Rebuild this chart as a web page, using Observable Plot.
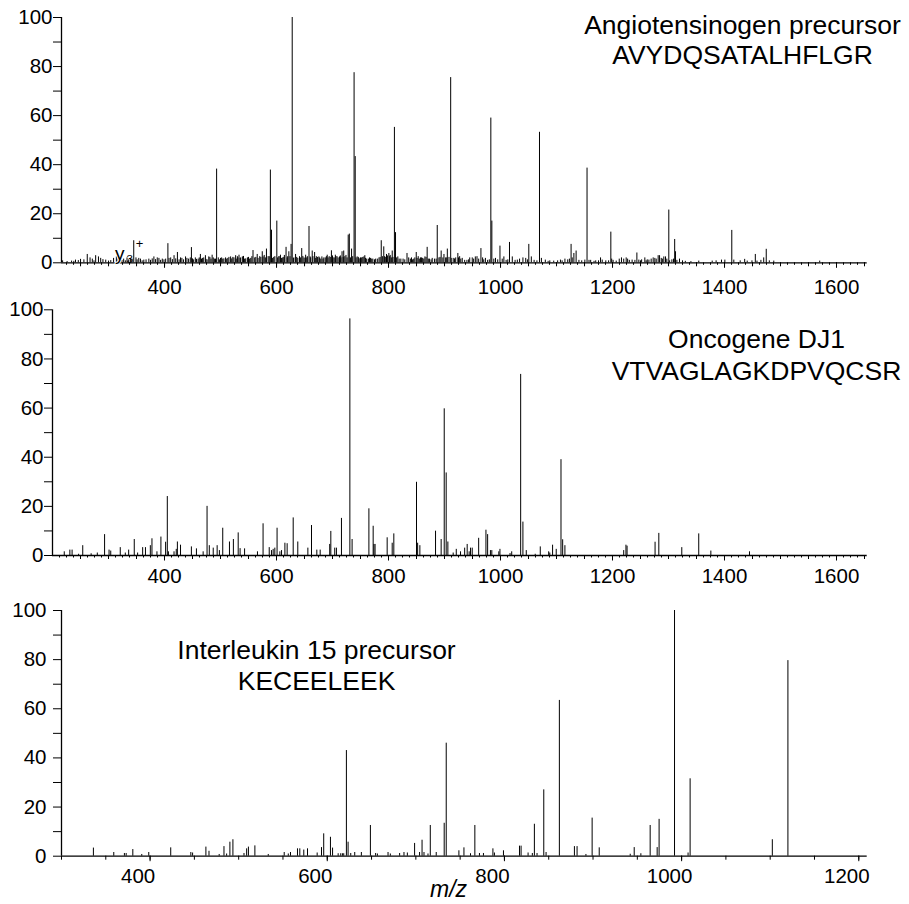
<!DOCTYPE html>
<html><head><meta charset="utf-8">
<script src="https://cdn.jsdelivr.net/npm/d3@7"></script>
<script src="https://cdn.jsdelivr.net/npm/@observablehq/plot@0.6"></script>
<style>
body{margin:0;background:#fff;}
#wrap{position:relative;width:909px;height:904px;background:#fff;font-family:"Liberation Sans",Arial,sans-serif;}
#wrap svg{position:absolute;left:0;overflow:visible;}
</style></head><body><div id="wrap"></div>
<script>
// ---------- data ----------
const yTicks = [0,10,20,30,40,50,60,70,80,90,100];
const yLabels = [0,20,40,60,80,100];
const xLabelsTop = [400,600,800,1000,1200,1400,1600];
const xLabelsBottom = [400,600,800,1000,1200];

const titleTop = ["Angiotensinogen precursor","AVYDQSATALHFLGR"];
const titleMid = ["Oncogene DJ1","VTVAGLAGKDPVQCSR"];
const titleBottom = ["Interleukin 15 precursor","KECEELEEK"];
const xTitle = "m/z";
const ionLabel = {mz: 345, ion: "y", sub: "3", sup: "+"};

// [m/z, relative intensity]
const peaksAngio = [
[234,0.7],[241,1.1],[250,1.4],[262,3.4],[267,2],[277,2.9],[282,2.4],[286,1.8],[295,1.1],[300,0.7],[309,1.8],[314,2.4],[320,1.2],[327,1.5],[333,2],[339,1.8],
[345,9],[354,1.8],[363,1.1],[372,1.5],[381,2.4],[387,2],[396,1.5],[406,7.8],[411,2],[417,2.9],[423,4.2],[428.6,2],[437.5,2.4],[448,6.2],[452,1.2],[455,2],[460,1.5],
[464,3.4],[468,1.8],[473,2.9],[476,1.2],[479,2.4],[485,3.1],[489,1.5],[493,38.2],[500,1.8],[504,1.5],[509,2],[513,1.8],[518,2.4],[522,2.2],[527,2.9],[530,2.5],
[533,3.1],[536,2],[539,2.4],[543,1.5],[548,2],[552,1.5],[558,5],[561,2],[565.5,3.4],[570,2.5],[574.5,4.5],[578,3],[582,5.6],[585,2.5],[589,37.8],[591,13.3],
[595,2.2],[600.5,17],[604,2.5],[607,3.1],[611,2],[614,3],[617,6.3],[620,2.5],[622,4.5],[626,7.5],[628,100],[631,2],[634,3.4],[638,1.8],[641,2.5],[645,5.8],
[649,2],[652,3.1],[655,2.5],[658,14.8],[661,2],[663.7,4.8],[668,4.2],[671,2.5],[675.6,2.4],[679,1.5],[684.5,2],[687,2],[690.5,3.1],[694,2.5],[698,4.9],[701,2],
[705,3.1],[708,2.5],[712.5,2.4],[715,2],[717,4.5],[720,4.8],[724,3],[728,11.3],[730,11.7],[732,2],[734,5.6],[738.5,77.5],[740.5,43.3],[744,2.4],[747,1.8],
[750,2],[754,2.2],[757.7,2.9],[761,1.5],[768,1.8],[772,1.5],[777,1.5],[783,2],[787,9],[791.5,6.5],[793,2.5],[796.4,3.4],[798,2.8],[800.6,3.8],[803,3],
[806.6,4.8],[810.5,55.2],[812.5,12.3],[816.6,2.4],[819,1.5],[826,1.5],[833,3.8],[836,2],[841,2],[845,1.5],[849.5,4.2],[853,2.5],[857,2],[861,1.8],[865,2.4],
[869,6.3],[873,1.5],[878,1.8],[882,1.5],[887,15.2],[890,2],[894,4.8],[899,3.4],[902,2],[905,5.6],[908,2.2],[911,75.5],[916.6,1.8],[920,2],[923.8,3.8],[927,2.5],
[931.6,1.8],[940,1],[945,2],[949.5,2],[952,1.5],[955,2.4],[958,2.5],[965,5.8],[968,2],[973,1.8],[977,1],[982.7,59],[984.5,17],[991,1.8],[995,1.2],[999,6.8],
[1003,1.5],[1006,2.4],[1010,1],[1016,8.3],[1021,2.4],[1026,1],[1034,1.5],[1040,2],[1045,1.8],[1050.5,7.5],[1055,2.4],[1060,1],[1069.6,53.2],[1073,1.8],[1080,1.1],
[1088,0.8],[1095,0.7],[1102,0.8],[1107,1.1],[1115,1.5],[1120,1.2],[1126,7.5],[1131,3.8],[1135,4.8],[1140,1],[1150.6,1.1],[1154.5,38.6],[1161,1],[1170,0.8],
[1178.6,2],[1181.6,1.1],[1188,0.8],[1197,12.5],[1198.5,1.5],[1206.6,0.7],[1212,1.5],[1216,2],[1220,1.5],[1224.4,2],[1230,1],[1235,1.1],[1243.5,4],[1247,1.1],
[1252,1.2],[1257.7,2],[1262,1.2],[1265,1.1],[1269,1.5],[1272.6,2],[1275.6,1.8],[1281.5,2.9],[1284,2.9],[1287,1.8],[1291.6,2.4],[1294.6,2.4],[1300.5,21.5],
[1302,0.8],[1306,1.2],[1311,9.5],[1312.5,4.5],[1319.6,1.5],[1325,0.8],[1340,0.5],[1354,0.7],[1378,0.7],[1385,0.8],[1394.6,1.1],[1400.6,1.1],[1413,13.2],
[1416.6,1.1],[1428,0.8],[1436,1.4],[1440.5,0.7],[1449,0.8],[1455,3.4],[1458,0.7],[1465,1],[1470,2],[1474.5,5.5],[1480,0.8],[1488,0.7],[1570,0.7],
// dense low-level noise band
[218,0.8],[226,0.5],[238,0.6],[246,0.9],[256,1.2],[271,1.5],[274,0.8],[290,1.3],[304,0.9],[317,1.6],[324,1],[330,0.8],[336,1.2],[342,1.5],[349,2],[351,1.2],
[357,1.5],[360,0.8],[367,1.2],[375,1],[378,1.6],[384,1.3],[390,1.8],[393,1],[399,1.2],[402,1.5],[408,1.8],[414,1.3],[420,1.6],[426,1.2],[431,1.8],[434,1.2],
[440,1.8],[443,1.5],[446,2],[450,1.6],[457,1.4],[462,2],[466,1.5],[470,2],[474,1.4],[481,2.2],[483,1.5],[487,2],[491,1.5],[496,2],[498,1.2],[502,2],[506,1.6],
[511,1.5],[515,2.2],[520,1.6],[524,2],[528,1.5],[531,2],[535,1.8],[541,2.6],[545,1.6],[550,2.2],[554,1.8],[556,2.5],[563,2.2],[567,1.8],[572,2.2],[576,2.4],
[580,2],[587,2.5],[593,1.8],[597,2.5],[602,2],[606,2.5],[609,1.8],[613,2.2],[619,2],[624,2.5],[630,1.8],[636,2.2],[643,2],[647,2.6],[651,1.8],[654,2],[660,2.4],
[665,2.5],[670,1.8],[673,2.2],[677,2],[681,2.4],[683,1.5],[689,2.5],[692,2],[696,2.2],[700,2.8],[703,2],[706,2.5],[710,2],[714,2.8],[719,2.2],[722,2.5],[726,2],
[736,2.5],[742,2],[746,2.2],[749,1.5],[752,2],[756,2.4],[759,1.8],[764,1.5],[766,2],[770,1.5],[775,1.2],[780,1.5],[785,2.2],[789,2.5],[795,2.2],[802,2.5],
[805,2],[808,2.2],[814,2],[822,1.5],[829,1.2],[839,1.5],[843,1.2],[847,2],[851,1.8],[855,1.5],[859,2],[863,1.5],[867,2.2],[871,1.5],[876,1.2],[885,1.5],
[892,2.2],[897,2],[904,2],[913,1.8],[918,1.5],[925,2],[929,1.5],[936,1],[943,1.2],[961,1.5],[970,1.2],[980,1.2],[988,1.5],[1013,1.2],[1030,1.1],[1048,1.2],
[1065,0.8],[1085,0.6],[1110,0.8],[1123,1.5],[1128,2],[1145,0.8],[1158,1],[1167,0.6],[1175,0.8],[1193,0.8],[1201,1],[1227,1.5],[1240,1],[1250,0.8],[1260,0.8],
[1278,1.5],[1289,1.5],[1297,1.5],[1309,1.5],[1315,1],[1330,0.6]
];

const peaksDJ1 = [
[221,1.5],[231,2.2],[235,2.2],[246.6,0.5],[254,4],[269,0.7],[280,1],[293,8.5],[301,2.2],[304,1.8],[321,3.2],[330,1],[336,2.2],[346,6.5],[352,1],[361,3.2],
[366,3.2],[374.7,4],[377.6,6.8],[386.5,1.5],[393.6,7.5],[402,5.4],[405,24],[407,1.5],[417,1.5],[421,2.5],[423,5.5],[428.6,4.2],[448,3.5],[457,2.7],[469,1.5],
[476,20],[480,4],[487,3],[494,4],[498,2],[504,11.1],[516,5.5],[523,6.5],[531.6,9.2],[535,2.8],[543,2.7],[566,1.5],[576,12.9],[587,3.2],[591,2],[594,2.5],
[597,3],[601,11.1],[606,1.5],[609,2],[615,5],[619,4.8],[629.8,15.3],[638,5.5],[656,3],[662.5,12.2],[672,2.2],[678,2.2],[695,4.5],[697,9.8],[704,3],[707,3],
[716,15.1],[731,96.3],[735,6.5],[765,19],[772.6,11.9],[774,4.5],[776,4.5],[797.6,7.2],[806.6,5],[809.5,8.8],[850,29.8],[852,5],[856,4],[884,9.9],[894,6.5],
[899.5,59.7],[903,33.6],[906,5.5],[915.5,1],[921,2.5],[928.6,1.5],[936,3],[940.5,4.5],[944,1.5],[946.5,3],[949.5,3],[961,7],[974,10.3],[977,8.5],[982,2],
[984.5,2],[997,1.5],[999,2.5],[1017,0.8],[1020,1.5],[1036,73.7],[1040,13.6],[1046,2],[1062,0.5],[1071,3.5],[1086,1.5],[1088,1],[1093,4.2],[1099.5,2.5],
[1108,39],[1111,6.4],[1115,4],[1220,2],[1224,4.2],[1226,3.8],[1276,5.4],[1282.7,9],[1323.7,3.2],[1354,8.8],[1375.6,1.8],[1444.6,1.5]
];

const peaksIL15 = [
[336,3.3],[359,1.5],[371,1.1],[373,1.1],[380.5,2.7],[390.6,0.7],[398.5,1.5],[423.3,3.4],[446,1.5],[448,1.3],[463,3.7],[466.5,2],[478,0.7],[483.4,3.9],
[486.4,0.9],[490.1,5.7],[493.5,6.7],[506,1.1],[509,3],[511,3.7],[518.3,4.2],[533.4,0.7],[551.4,1.5],[556,0.9],[558.5,1.5],[566.4,3],[569,3],[573.5,2.5],
[577.7,3],[588.6,1.3],[593.5,3.5],[596,9.1],[603.6,7.7],[606,3.3],[612.3,1],[615.2,1],[617.1,1],[618.6,1],[621.6,43],[623.5,5.7],[626.5,1.1],[631,1.5],
[638.5,1.5],[648.7,12.5],[654.6,1.1],[656.6,0.9],[668.6,1.5],[671.2,0.9],[681.7,1.1],[686.6,1.5],[690.4,1.3],[698.6,5.2],[704.2,1.5],[707,6.5],[709.2,1.5],
[713.7,0.9],[716.3,12.5],[723,1.5],[732,13.4],[734.3,46],[748.6,2.2],[754.3,3.4],[761.7,1],[766.6,12.5],[771.8,1.1],[776.3,1.1],[787,3],[788.7,1.3],[798.9,2.2],
[817,4.1],[818.8,4.1],[826.7,1.3],[831.5,1.1],[833.8,13],[836.8,1.1],[844.4,27],[847,1.5],[862,63.4],[879,3.9],[882,3.9],[892,0.7],[899,15.5],[907,3.4],
[942,0.8],[946.5,3.5],[954,1],[964.5,12.5],[972.4,3.5],[974.6,15],[992,100],[1007.3,1.3],[1009.6,31.5],[1102.4,6.7],[1120,79.6]
];

// ---------- drawing ----------
const W = 909;
const wrap = document.getElementById("wrap");
const FONT = "Liberation Sans, Arial, sans-serif";

function panel(cfg) {
  const marginTop = cfg.y100 - cfg.svgTop;
  const marginBottom = cfg.svgTop + cfg.svgHeight - cfg.y0;
  const marks = [
    Plot.ruleX(cfg.peaks, {x: d => d[0], y1: 0, y2: d => d[1], stroke: "#000", strokeWidth: 1}),
    Plot.ruleY([0], {stroke: "#000", strokeWidth: 1.3}),
    Plot.ruleX([cfg.xDomain[0]], {y1: 0, y2: 100, stroke: "#000", strokeWidth: 1.3}),
    Plot.axisY(yTicks, {tickSize: 8, tickPadding: cfg.yPad, fontSize: 20.5,
      tickFormat: d => yLabels.includes(d) ? String(d) : ""}),
    Plot.axisX(cfg.minor, {tickSize: 2.5, tickFormat: () => ""}),
    Plot.axisX(cfg.mid, {tickSize: 4, tickFormat: () => ""}),
    Plot.axisX(cfg.major, {tickSize: 5.5, tickFormat: () => ""}),
    Plot.text(cfg.major, {x: d => d, text: d => String(d), frameAnchor: "bottom",
      lineAnchor: "top", dy: cfg.xLabelDy, dx: cfg.xLabelDx, fontSize: 20.5, fill: "#000"}),
    Plot.text([cfg.title[0]], {frameAnchor: "top-left", textAnchor: "middle", lineAnchor: "bottom",
      dx: cfg.titleX - cfg.left, dy: cfg.titleBase[0] - cfg.y100, fontSize: 26.5, fill: "#000"}),
    Plot.text([cfg.title[1]], {frameAnchor: "top-left", textAnchor: "middle", lineAnchor: "bottom",
      dx: cfg.titleX - cfg.left, dy: cfg.titleBase[1] - cfg.y100, fontSize: 26.5, fill: "#000"})
  ];
  if (cfg.extra) marks.push(...cfg.extra);
  const svg = Plot.plot({
    width: W, height: cfg.svgHeight,
    marginLeft: cfg.left, marginRight: W - cfg.right, marginTop, marginBottom,
    x: {domain: cfg.xDomain},
    y: {domain: [0, 100]},
    style: {fontFamily: FONT, color: "#000", background: "transparent", overflow: "visible"},
    marks
  });
  svg.style.top = cfg.svgTop + "px";
  wrap.appendChild(svg);
}

// panel 1
panel({
  peaks: peaksAngio, xDomain: [216, 1654.8], left: 61, right: 866.7,
  svgTop: 0, svgHeight: 290, y100: 17, y0: 262.3, yPad: 1,
  major: xLabelsTop, mid: d3.range(250, 1651, 50), minor: d3.range(225, 1655, 12.5),
  xLabelDy: 17, xLabelDx: 0,
  title: titleTop, titleX: 742, titleBase: [33, 63.5],
  extra: [
    Plot.text([ionLabel], {x: d => d.mz, y: 0, text: d => d.ion, dx: -14, dy: -3, textAnchor: "middle", lineAnchor: "bottom", fontSize: 19, fill: "#000", stroke: "#fff", strokeWidth: 2, paintOrder: "stroke"}),
    Plot.text([ionLabel], {x: d => d.mz, y: 0, text: d => d.sub, dx: -0.8, dy: 0, textAnchor: "end", lineAnchor: "bottom", fontSize: 11.5, fill: "#000"}),
    Plot.text([ionLabel], {x: d => d.mz, y: 0, text: d => d.sup, dx: 2, dy: -15, textAnchor: "start", lineAnchor: "bottom", fontSize: 13, fill: "#000"})
  ]
});

// panel 2
panel({
  peaks: peaksDJ1, xDomain: [200, 1654.8], left: 52, right: 866.7,
  svgTop: 290, svgHeight: 300, y100: 309.3, y0: 555, yPad: 1,
  major: xLabelsTop, mid: d3.range(250, 1651, 50), minor: d3.range(212.5, 1655, 12.5),
  xLabelDy: 13, xLabelDx: 0,
  title: titleMid, titleX: 756, titleBase: [347, 379.5]
});

// panel 3
panel({
  peaks: peaksIL15, xDomain: [300, 1209.5], left: 61, right: 866.7,
  svgTop: 590, svgHeight: 314, y100: 610, y0: 855.7, yPad: 7,
  major: xLabelsBottom, mid: d3.range(300, 1201, 50), minor: [],
  xLabelDy: 12.5, xLabelDx: -12,
  title: titleBottom, titleX: 316, titleBase: [658, 689.5],
  extra: [
    Plot.text([xTitle], {frameAnchor: "bottom-left", dx: 448 - 61, dy: 41, textAnchor: "middle", lineAnchor: "bottom",
      fontSize: 23, fontStyle: "italic", fill: "#000"})
  ]
});
</script></body></html>
